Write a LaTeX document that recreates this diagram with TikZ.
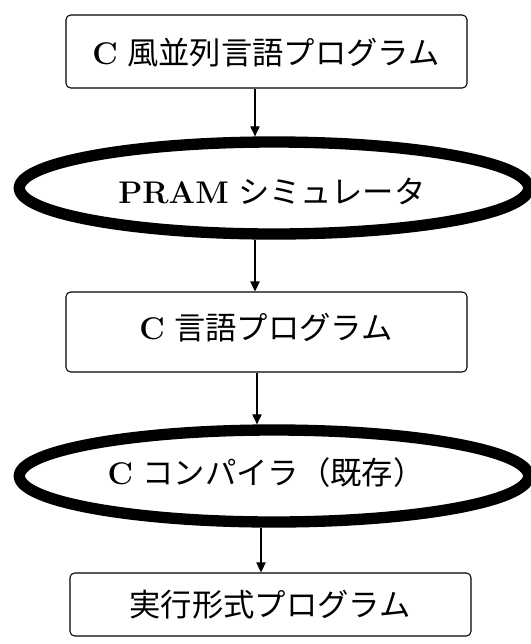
\documentclass[tikz,border=0pt]{standalone}
\usepackage{fontspec}
\newfontfamily\jp{Noto Sans CJK JP}
\usetikzlibrary{shapes.geometric,arrows.meta}
\begin{document}
\begin{tikzpicture}[x=0.75pt,y=-0.75pt,
  box/.style={draw,rounded corners=3.5pt,line width=0.8pt,inner sep=0pt,minimum width=300.75pt},
  oval/.style={draw,ellipse,line width=8.5pt,minimum width=382pt,minimum height=69pt,inner sep=0pt},
  lbl/.style={font=\fontsize{23.5}{28}\selectfont,inner sep=0pt},
  arr/.style={-{Triangle[length=7.5pt,width=7pt]},line width=0.8pt}]
\useasboundingbox[fill=white] (0,0) rectangle (531,644);
% boxes and ovals
\node[box,minimum height=54.75pt] (b1) at (266.5,51.5) {};
\node[oval] (e1) at (274,188) {};
\node[box,minimum height=60pt] (b2) at (266.5,332) {};
\node[oval] (e2) at (274,476) {};
\node[box,minimum height=47.25pt] (b3) at (270.5,604.5) {};
% texts
\node[lbl] (t1) at (266,53) {\textbf{C} {\jp 風並列言語プログラム}};
\node[lbl] (t2) at (272,191) {\textbf{PRAM} {\jp シミュレータ}};
\node[lbl] (t3) at (266,328) {\textbf{C} {\jp 言語プログラム}};
\node[lbl] (t4) at (266,473) {\textbf{C} {\jp コンパイラ（既存）}};
\node[lbl] (t5) at (270,605) {{\jp 実行形式プログラム}};
% connector columns
\coordinate (x1) at (255,0);
\coordinate (x2) at (255,0);
\coordinate (x3) at (257,0);
\coordinate (x4) at (261,0);
\draw[arr] (b1.south -| x1) -- (x1 |- e1.north);
\draw[arr] (e1.south -| x2) -- (x2 |- b2.north);
\draw[arr] (b2.south -| x3) -- (x3 |- e2.north);
\draw[arr] (e2.south -| x4) -- (x4 |- b3.north);
\end{tikzpicture}
\end{document}
